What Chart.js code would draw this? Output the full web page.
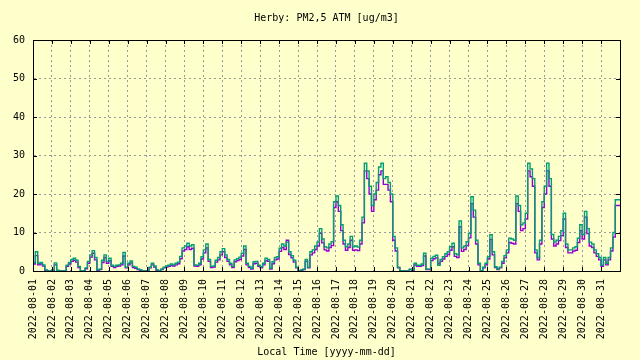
<!DOCTYPE html>
<html>
<head>
<meta charset="utf-8">
<title>Herby PM2,5</title>
<script src="https://cdn.jsdelivr.net/npm/chart.js@4.4.1/dist/chart.umd.min.js"></script>
<style>
  html, body { margin: 0; padding: 0; background: #ffffcc; }
  #grafico { display: block; background: #ffffcc; }
</style>
</head>
<body>
<canvas id="grafico" width="640" height="360"></canvas>
<script>
// PM2,5 ATM, 3h samples starting 2022-08-01 00:00
const stepHours = 3;

const dayLabels = [
  '2022-08-01', '2022-08-02', '2022-08-03', '2022-08-04', '2022-08-05', '2022-08-06',
  '2022-08-07', '2022-08-08', '2022-08-09', '2022-08-10', '2022-08-11', '2022-08-12',
  '2022-08-13', '2022-08-14', '2022-08-15', '2022-08-16', '2022-08-17', '2022-08-18',
  '2022-08-19', '2022-08-20', '2022-08-21', '2022-08-22', '2022-08-23', '2022-08-24',
  '2022-08-25', '2022-08-26', '2022-08-27', '2022-08-28', '2022-08-29', '2022-08-30',
  '2022-08-31'
];

const yTicks = [0, 10, 20, 30, 40, 50, 60];

// sensor A (purple)
const pmA = [
  2.0, 1.8, 4.0, 1.6, 1.8, 1.3, 0.2, 0,
  0, 0.2, 1.6, 0.1, 0, 0, 0, 1.2,
  1.8, 2.5, 2.8, 2.3, 0.9, 0, 0, 0.6,
  2.0, 3.6, 4.6, 2.9, 0.2, 0.4, 2.2, 3.5,
  2.0, 2.7, 1.2, 0.9, 1.2, 1.3, 1.6, 3.9,
  0.8, 1.6, 2.1, 0.9, 0.7, 0.4, 0.2, 0,
  0, 0, 0.8, 1.6, 1.0, 0.2, 0, 0.4,
  0.8, 1.0, 1.2, 1.4, 1.3, 1.6, 1.9, 3.2,
  5.2, 5.6, 6.3, 5.6, 5.9, 1.3, 1.2, 1.6,
  3.1, 4.7, 6.0, 2.5, 0.9, 1.0, 2.3, 2.9,
  4.2, 5.0, 3.5, 2.5, 1.6, 0.9, 2.4, 2.7,
  3.0, 3.9, 5.6, 1.6, 0.9, 0.5, 1.9, 2.0,
  1.2, 0.8, 1.6, 2.7, 2.5, 0.5, 1.9, 2.9,
  3.1, 5.1, 6.1, 5.6, 8.0, 4.3, 3.4, 2.3,
  0.8, 0, 0.2, 0.4, 2.5, 0.8, 4.2, 4.7,
  5.6, 6.5, 9.8, 7.3, 5.5, 5.2, 6.1, 6.6,
  16.5, 18.0, 15.5, 10.5, 7.0, 5.4, 6.1, 8.0,
  5.4, 5.5, 5.3, 7.0, 12.5, 26.0, 24.0, 20.0,
  15.5, 18.5, 21.0, 25.0, 26.0, 22.5, 22.5, 21.0,
  18.0, 8.0, 5.2, 0.8, 0, 0, 0, 0,
  0.4, 0.2, 1.6, 1.2, 1.2, 1.4, 3.9, 0.4,
  0.4, 2.7, 3.2, 3.4, 1.9, 2.5, 3.1, 3.8,
  4.3, 5.4, 6.3, 3.8, 3.5, 11.5, 5.1, 5.6,
  6.6, 8.6, 17.5, 14.0, 7.0, 1.6, 0, 0.8,
  1.6, 3.1, 8.2, 4.2, 0.9, 0.4, 0.8, 2.0,
  3.4, 4.7, 7.4, 7.2, 7.0, 17.5, 15.5, 10.5,
  11.0, 13.5, 26.0, 24.5, 22.0, 4.7, 2.9, 7.0,
  16.5, 20.0, 26.0, 22.0, 8.3, 6.5, 7.0, 7.9,
  9.2, 13.5, 6.1, 4.7, 4.7, 5.2, 5.4, 7.4,
  10.5, 8.3, 14.0, 9.7, 6.5, 6.1, 4.7, 3.8,
  2.9, 1.2, 2.9, 1.6, 2.9, 5.2, 8.8, 17.0
];

// sensor B (green)
const pmB = [
  2.5, 2.2, 5.0, 2.0, 2.2, 1.6, 0.3, 0,
  0, 0.3, 2.1, 0.2, 0, 0, 0, 1.5,
  2.2, 3.0, 3.3, 2.8, 1.2, 0, 0, 0.8,
  2.5, 4.2, 5.3, 3.5, 0.3, 0.5, 2.8, 4.2,
  2.5, 3.3, 1.5, 1.2, 1.5, 1.6, 2.0, 4.8,
  1.0, 2.0, 2.6, 1.2, 1.0, 0.5, 0.3, 0,
  0, 0, 1.0, 2.0, 1.3, 0.3, 0, 0.5,
  1.0, 1.3, 1.5, 1.8, 1.6, 2.0, 2.3, 3.8,
  6.0, 6.5, 7.2, 6.5, 6.8, 1.6, 1.5, 2.0,
  3.7, 5.5, 7.0, 3.0, 1.2, 1.3, 2.8, 3.5,
  5.0, 5.8, 4.2, 3.0, 2.0, 1.2, 2.9, 3.2,
  3.6, 4.6, 6.5, 2.0, 1.2, 0.7, 2.4, 2.5,
  1.5, 1.1, 2.0, 3.3, 3.0, 0.7, 2.4, 3.5,
  3.7, 5.9, 7.0, 6.5, 7.5, 5.0, 4.0, 2.8,
  1.0, 0, 0.3, 0.5, 3.0, 1.0, 5.0, 5.5,
  6.5, 7.5, 11.0, 8.3, 6.3, 6.0, 7.0, 7.6,
  18.0, 19.5, 17.0, 12.0, 8.0, 6.3, 7.0, 9.0,
  6.3, 6.5, 6.2, 8.0, 14.0, 28.0, 26.0, 22.0,
  17.0, 20.0, 23.0, 27.0, 28.0, 24.0, 24.5, 23.0,
  20.0, 9.0, 6.0, 1.0, 0, 0, 0, 0,
  0.5, 0.3, 2.0, 1.5, 1.5, 1.8, 4.6, 0.5,
  0.5, 3.3, 3.8, 4.1, 1.5, 3.0, 3.7, 4.5,
  5.0, 6.3, 7.2, 4.5, 4.2, 13.0, 6.0, 6.5,
  7.6, 9.8, 19.3, 15.8, 8.0, 2.0, 0, 1.0,
  2.0, 3.7, 9.4, 5.0, 1.1, 0.5, 1.0, 2.5,
  4.0, 5.5, 8.5, 8.3, 8.0, 19.5, 17.0, 12.0,
  12.5, 15.0, 28.0, 26.5, 24.0, 5.5, 3.5, 8.0,
  18.0, 22.0, 28.0, 24.0, 9.5, 7.5, 8.0, 9.0,
  10.5, 15.0, 7.0, 5.5, 5.5, 6.0, 6.3, 8.5,
  12.0, 9.5, 15.5, 11.0, 7.5, 7.0, 5.5, 4.5,
  3.5, 1.5, 3.5, 2.0, 3.5, 6.0, 10.0, 18.5
];

const FUENTE = { family: 'DejaVu Sans Mono', size: 10 };

function aPuntos(valores) {
  const puntos = valores.map((v, i) => ({ x: i * stepHours / 24, y: v }));
  // hold the last sample until the end of the month
  puntos.push({ x: dayLabels.length, y: valores[valores.length - 1] });
  return puntos;
}

// gnuplot-like frame with inward tick marks
const marcoPlugin = {
  id: 'marco',
  afterDraw(chart) {
    const { ctx, chartArea: a, scales } = chart;
    ctx.save();
    ctx.strokeStyle = '#000';
    ctx.lineWidth = 1;
    ctx.beginPath();
    scales.x.ticks.forEach(t => {
      const px = Math.round(scales.x.getPixelForValue(t.value)) + 0.5;
      ctx.moveTo(px, a.bottom); ctx.lineTo(px, a.bottom - 4);
      ctx.moveTo(px, a.top); ctx.lineTo(px, a.top + 4);
    });
    scales.y.ticks.forEach(t => {
      const py = Math.round(scales.y.getPixelForValue(t.value)) + 0.5;
      ctx.moveTo(a.left, py); ctx.lineTo(a.left + 4, py);
      ctx.moveTo(a.right, py); ctx.lineTo(a.right - 4, py);
    });
    ctx.stroke();
    ctx.strokeRect(Math.round(a.left) + 0.5, Math.round(a.top) + 0.5,
      Math.round(a.right - a.left), Math.round(a.bottom - a.top));
    ctx.restore();
  }
};

document.addEventListener("DOMContentLoaded", function () {
  const ctx = document.getElementById('grafico').getContext('2d');
  new Chart(ctx, {
    type: 'line',
    data: {
      datasets: [{
        label: 'A',
        data: aPuntos(pmA),
        borderColor: '#9400d3',
        borderWidth: 1.4,
        pointRadius: 0,
        stepped: 'after',
        order: 1
      }, {
        label: 'B',
        data: aPuntos(pmB),
        borderColor: '#009e73',
        borderWidth: 1.4,
        pointRadius: 0,
        stepped: 'after',
        order: 0
      }]
    },
    options: {
      responsive: false,
      animation: false,
      events: [],
      layout: { padding: { left: 0, right: 19, top: 0, bottom: 0 } },
      plugins: {
        legend: { display: false },
        tooltip: { enabled: false },
        title: {
          display: true,
          text: 'Herby: PM2,5 ATM [ug/m3]',
          fullSize: false,
          color: '#000',
          font: { ...FUENTE, weight: 'normal' },
          padding: { top: 12, bottom: 16 }
        }
      },
      scales: {
        x: {
          type: 'linear',
          min: 0,
          max: dayLabels.length,
          afterFit: s => { s.height = 89; },
          grid: { color: '#999999', drawTicks: false },
          border: { color: '#000', dash: [2, 3] },
          ticks: {
            stepSize: 1,
            autoSkip: false,
            minRotation: 90,
            maxRotation: 90,
            padding: 8,
            color: '#000',
            font: FUENTE,
            callback: v => dayLabels[v] || ''
          },
          title: {
            display: true,
            text: 'Local Time [yyyy-mm-dd]',
            color: '#000',
            font: FUENTE,
            padding: { top: 0, bottom: 2 }
          }
        },
        y: {
          min: yTicks[0],
          max: yTicks[yTicks.length - 1],
          afterFit: s => { s.width = 33; },
          afterBuildTicks: s => { s.ticks = yTicks.map(v => ({ value: v })); },
          grid: { color: '#999999', drawTicks: false },
          border: { color: '#000', dash: [2, 3] },
          ticks: { padding: 8, color: '#000', font: FUENTE }
        }
      }
    },
    plugins: [marcoPlugin]
  });
});
</script>
</body>
</html>
